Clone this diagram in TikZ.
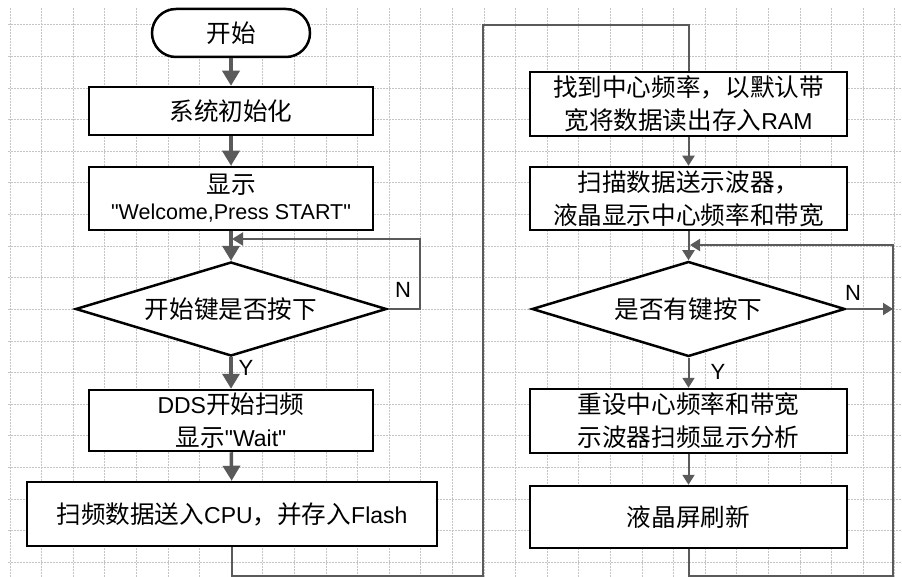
\documentclass[tikz,border=0pt]{standalone}
\usepackage{fontspec}
\setmainfont{Liberation Sans}
\newfontfamily\cjk{Noto Sans CJK SC}[Scale=1.07]
\usetikzlibrary{arrows.meta,shapes.geometric}
\definecolor{conn}{HTML}{5A5A5A}
\definecolor{gridc}{HTML}{C4C4C4}
\tikzset{
  box/.style={draw=black,line width=2.5pt,fill=white,rectangle,inner sep=0pt,align=center,
    font=\fontsize{23}{33}\selectfont},
  dia/.style={draw=black,line width=2.5pt,fill=white,diamond,aspect=3.3,inner sep=0pt,
    font=\fontsize{23}{33}\selectfont},
  bigarrow/.style={draw=conn,line width=3.5pt,-{Triangle[width=17pt,length=15pt]}},
  smallarrow/.style={draw=conn,line width=2pt,-{Triangle[width=12pt,length=10pt]}},
  plainline/.style={draw=conn,line width=2pt},
  lab/.style={font=\fontsize{22}{26}\selectfont,text=black,inner sep=0pt}
}
\begin{document}
\begin{tikzpicture}[x=1pt,y=-1pt]
\useasboundingbox (0,0) rectangle (902,577);
\fill[white] (0,0) rectangle (902,577);
% grid
\foreach \k in {0,...,28} {
  \draw[gridc,line width=1pt,dash pattern=on 2pt off 1pt] (10+31.6*\k,8) -- (10+31.6*\k,577);
}
\foreach \k in {0,...,17} {
  \draw[gridc,line width=1pt,dash pattern=on 2pt off 1pt] (8,25+31.6*\k) -- (902,25+31.6*\k);
}
% left column nodes
\node[box,rounded corners=24pt,minimum width=158pt,minimum height=48pt] (start) at (231,33) {\cjk 开始};
\node[box,minimum width=284pt,minimum height=48pt] (init) at (231,111) {\cjk 系统初始化};
\node[box,minimum width=284pt,minimum height=63pt] (disp) at (231,198.5)
  {{\cjk 显示}\\[-7pt]{\fontsize{21.5}{26}\selectfont \textquotedbl Welcome,Press START\textquotedbl}};
\node[dia,minimum width=311pt,minimum height=94pt] (dec1) at (231,309) {\cjk 开始键是否按下};
\node[box,minimum width=284pt,minimum height=61pt] (dds) at (231,420.5)
  {DDS{\cjk 开始扫频}\\{\cjk 显示}\textquotedbl Wait\textquotedbl};
\node[box,minimum width=410pt,minimum height=64pt] (cpu) at (232,514)
  {{\cjk 扫频数据送入}CPU{\cjk ，并存入}Flash};
% right column nodes
\node[box,minimum width=317pt,minimum height=64pt] (find) at (688.5,104)
  {{\cjk 找到中心频率，以默认带}\\{\cjk 宽将数据读出存入}RAM};
\node[box,minimum width=317pt,minimum height=63pt] (scan) at (688.5,198.5)
  {{\cjk 扫描数据送示波器，}\\{\cjk 液晶显示中心频率和带宽}};
\node[dia,minimum width=313pt,minimum height=95pt] (dec2) at (688.5,309) {\cjk 是否有键按下};
\node[box,minimum width=317pt,minimum height=64pt] (reset) at (688.5,421)
  {{\cjk 重设中心频率和带宽}\\{\cjk 示波器扫频显示分析}};
\node[box,minimum width=317pt,minimum height=62pt] (lcd) at (688.5,517) {\cjk 液晶屏刷新};
% helper coordinates
\coordinate (l1) at (420,239);
\coordinate (j1) at (232,239);
\coordinate (b1) at (483,576);
\coordinate (t1) at (688.5,25);
\coordinate (rN) at (893,309);
\coordinate (r1) at (893,576);
\coordinate (r2) at (690,245);
% left connectors
\draw[bigarrow] (start) -- (init);
\draw[bigarrow] (init) -- (disp);
\draw[bigarrow] (disp) -- (dec1);
\draw[plainline,-{Triangle[width=13pt,length=11pt]}] (dec1.east) -| (l1) -- (j1);
\node[lab] (n1) at (403,290) {N};
\draw[bigarrow] (dec1) -- (dds);
\node[lab] (y1) at (246,368) {Y};
\draw[bigarrow] (dds) -- (cpu);
\draw[plainline] (cpu.south) |- (b1) |- (t1) -- (find.north);
% right connectors
\draw[smallarrow] (find) -- (scan);
\draw[smallarrow] (scan) -- (dec2);
\draw[smallarrow] (dec2.east) -- (rN);
\node[lab] (n2) at (853,293) {N};
\draw[smallarrow] (dec2) -- (reset);
\node[lab] (y2) at (718,372) {Y};
\draw[smallarrow] (reset) -- (lcd);
\draw[smallarrow] (lcd.south) |- (r1) |- (r2);
\end{tikzpicture}
\end{document}
